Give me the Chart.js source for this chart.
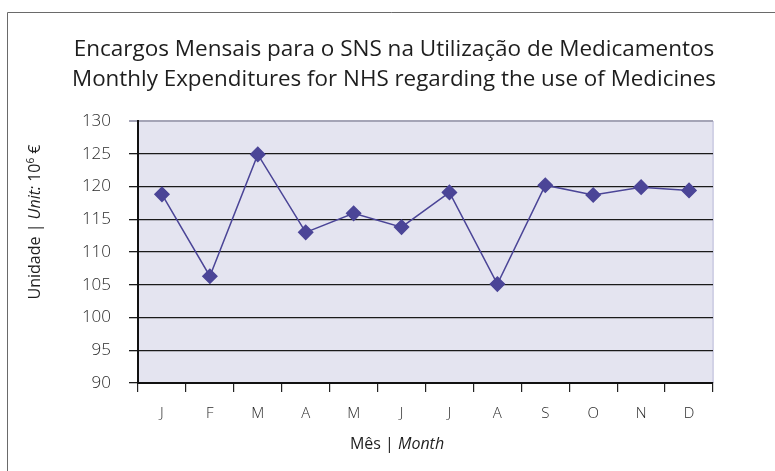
<!DOCTYPE html>
<html lang="pt">
<head>
    <meta charset="UTF-8">
    <title>Encargos Mensais para o SNS</title>
    <script src="https://cdn.jsdelivr.net/npm/chart.js@4.4.1/dist/chart.umd.min.js"></script>
    <style>
        html, body { margin: 0; padding: 0; background: #fff; }
        #wrap { width: 775px; height: 471px; position: relative; }
    </style>
</head>
<body>
<div id="wrap"><canvas id="chart" width="775" height="471"></canvas></div>
<script>
    // dados
    const months = ['J', 'F', 'M', 'A', 'M', 'J', 'J', 'A', 'S', 'O', 'N', 'D'];
    const expenditures = [118.8, 106.3, 124.9, 113.0, 115.9, 113.8, 119.1, 105.1, 120.2, 118.7, 119.9, 119.4];
    const titleLines = [
        'Encargos Mensais para o SNS na Utilização de Medicamentos',
        'Monthly Expenditures for NHS regarding the use of Medicines'
    ];
    const yMin = 90, yMax = 130, yStep = 5;

    const FONT = '"Open Sans", "DejaVu Sans", sans-serif';
    const lineColor = '#4b4597';

    // fundo da área, moldura, título e títulos dos eixos
    const decor = {
        id: 'decor',
        beforeDraw(chart) {
            const ctx = chart.ctx, a = chart.chartArea;
            ctx.save();
            ctx.fillStyle = '#e4e4f0';
            ctx.fillRect(a.left, a.top, a.right - a.left, a.bottom - a.top);
            ctx.strokeStyle = '#d2d2e6';
            ctx.lineWidth = 2;
            ctx.beginPath();
            ctx.moveTo(a.right, a.top);
            ctx.lineTo(a.right, a.bottom);
            ctx.stroke();
            // moldura
            ctx.strokeStyle = '#6a6a6a';
            ctx.lineWidth = 1;
            ctx.beginPath();
            ctx.moveTo(7.5, 471);
            ctx.lineTo(7.5, 12.5);
            ctx.lineTo(775, 12.5);
            ctx.stroke();
            ctx.restore();
        },
        afterDraw(chart) {
            const ctx = chart.ctx;
            ctx.save();
            ctx.fillStyle = '#1e1e1e';
            ctx.textBaseline = 'alphabetic';
            ctx.textAlign = 'center';
            ctx.font = '22.5px ' + FONT;
            ctx.fillText(titleLines[0], 394, 56, 644);
            ctx.fillText(titleLines[1], 394, 86, 644);

            // título eixo x
            ctx.textAlign = 'left';
            const xParts = [['Mês | ', 'normal'], ['Month', 'italic']];
            drawParts(ctx, xParts, 397, 449, 16);

            // título eixo y
            ctx.translate(40, 222);
            ctx.rotate(-Math.PI / 2);
            const yParts = [['Unidade | ', 'normal'], ['Unit:', 'italic'], [' 10', 'normal'], ['6', 'sup'], [' €', 'normal']];
            drawParts(ctx, yParts, 0, 0, 16);
            ctx.restore();
        }
    };

    function drawParts(ctx, parts, cx, y, size) {
        const fontFor = s => s === 'italic' ? 'italic ' + size + 'px ' + FONT
            : s === 'sup' ? Math.round(size * 0.6) + 'px ' + FONT
            : size + 'px ' + FONT;
        let total = 0;
        parts.forEach(p => { ctx.font = fontFor(p[1]); total += ctx.measureText(p[0]).width; });
        let x = cx - total / 2;
        parts.forEach(p => {
            ctx.font = fontFor(p[1]);
            ctx.fillText(p[0], x, p[1] === 'sup' ? y - size * 0.4 : y);
            x += ctx.measureText(p[0]).width;
        });
    }

    new Chart(document.getElementById('chart'), {
        type: 'line',
        data: {
            labels: months,
            datasets: [{
                data: expenditures,
                borderColor: lineColor,
                borderWidth: 1.5,
                backgroundColor: lineColor,
                pointStyle: 'rectRot',
                pointRadius: 7,
                pointHoverRadius: 7,
                pointBackgroundColor: lineColor,
                pointBorderColor: lineColor,
                tension: 0
            }]
        },
        options: {
            responsive: false,
            animation: false,
            layout: { padding: { left: 0, right: 62, top: 121, bottom: 0 } },
            plugins: {
                legend: { display: false },
                tooltip: { enabled: false }
            },
            scales: {
                x: {
                    offset: true,
                    afterFit(scale) { scale.height = 88; },
                    grid: {
                        offset: true,
                        drawOnChartArea: false,
                        drawTicks: true,
                        tickLength: 9,
                        color: '#222',
                        lineWidth: 1.2
                    },
                    border: { color: '#111', width: 2 },
                    ticks: {
                        padding: 13,
                        color: '#2a2a2a',
                        font: { family: FONT, size: 15, weight: '300' }
                    }
                },
                y: {
                    min: yMin,
                    max: yMax,
                    afterFit(scale) { scale.width = 138; },
                    grid: {
                        color: ctx => ctx.tick && ctx.tick.value === yMax ? '#a4a4b6' : '#1a1a1a',
                        lineWidth: ctx => ctx.tick && ctx.tick.value === yMax ? 2 : 1.3,
                        tickLength: 9,
                        drawTicks: true
                    },
                    border: { color: '#111', width: 2 },
                    ticks: {
                        stepSize: yStep,
                        padding: 18,
                        color: '#2a2a2a',
                        font: { family: FONT, size: 17, weight: '300' }
                    }
                }
            }
        },
        plugins: [decor]
    });
</script>
</body>
</html>
